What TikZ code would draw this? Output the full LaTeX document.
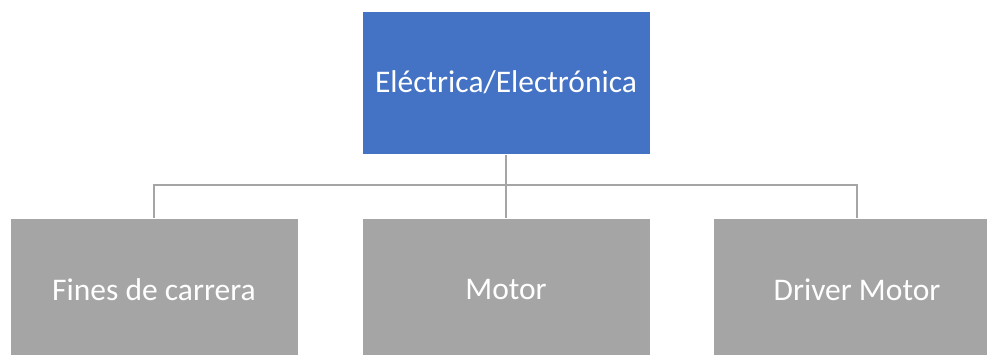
\documentclass[tikz,border=0pt]{standalone}
\usepackage{fontspec}
\setmainfont{Carlito}
\definecolor{orgblue}{HTML}{4472C4}
\definecolor{orggray}{HTML}{A5A5A5}
\tikzset{
    org top/.style={
      fill=orgblue,
      draw=white,
      line width=1pt,
      minimum width=288pt,
      minimum height=143pt,
      inner sep=0pt,
      text=white,
      font=\fontsize{31.5}{36}\selectfont
    },
    org box/.style={
      org top,
      fill=orggray
    },
    org line/.style={
      draw=orggray,
      line width=2.4pt
    }
  }
\begin{document}
\begin{tikzpicture}[x=1pt,y=-1pt]
      \clip (0,0) rectangle (987,354);
      \fill[white] (0,0) rectangle (987,354);

      % ノード
      \node[org top] (elec) at (506,82.5) {Eléctrica/Electrónica};
      \node[org box] (fines) at (154,289.5) {Fines de carrera};
      \node[org box] (motor) at (506,289.5) {Motor};
      \node[org box] (driver) at (857,289.5) {Driver Motor};
      \coordinate (bus) at (506,185);

      % 接続線
      \draw[org line] (elec.south) -- (bus);
      \draw[org line] (fines.north) |- (bus) -| (driver.north);
      \draw[org line] (bus) -- (motor.north);
    \end{tikzpicture}
\end{document}
